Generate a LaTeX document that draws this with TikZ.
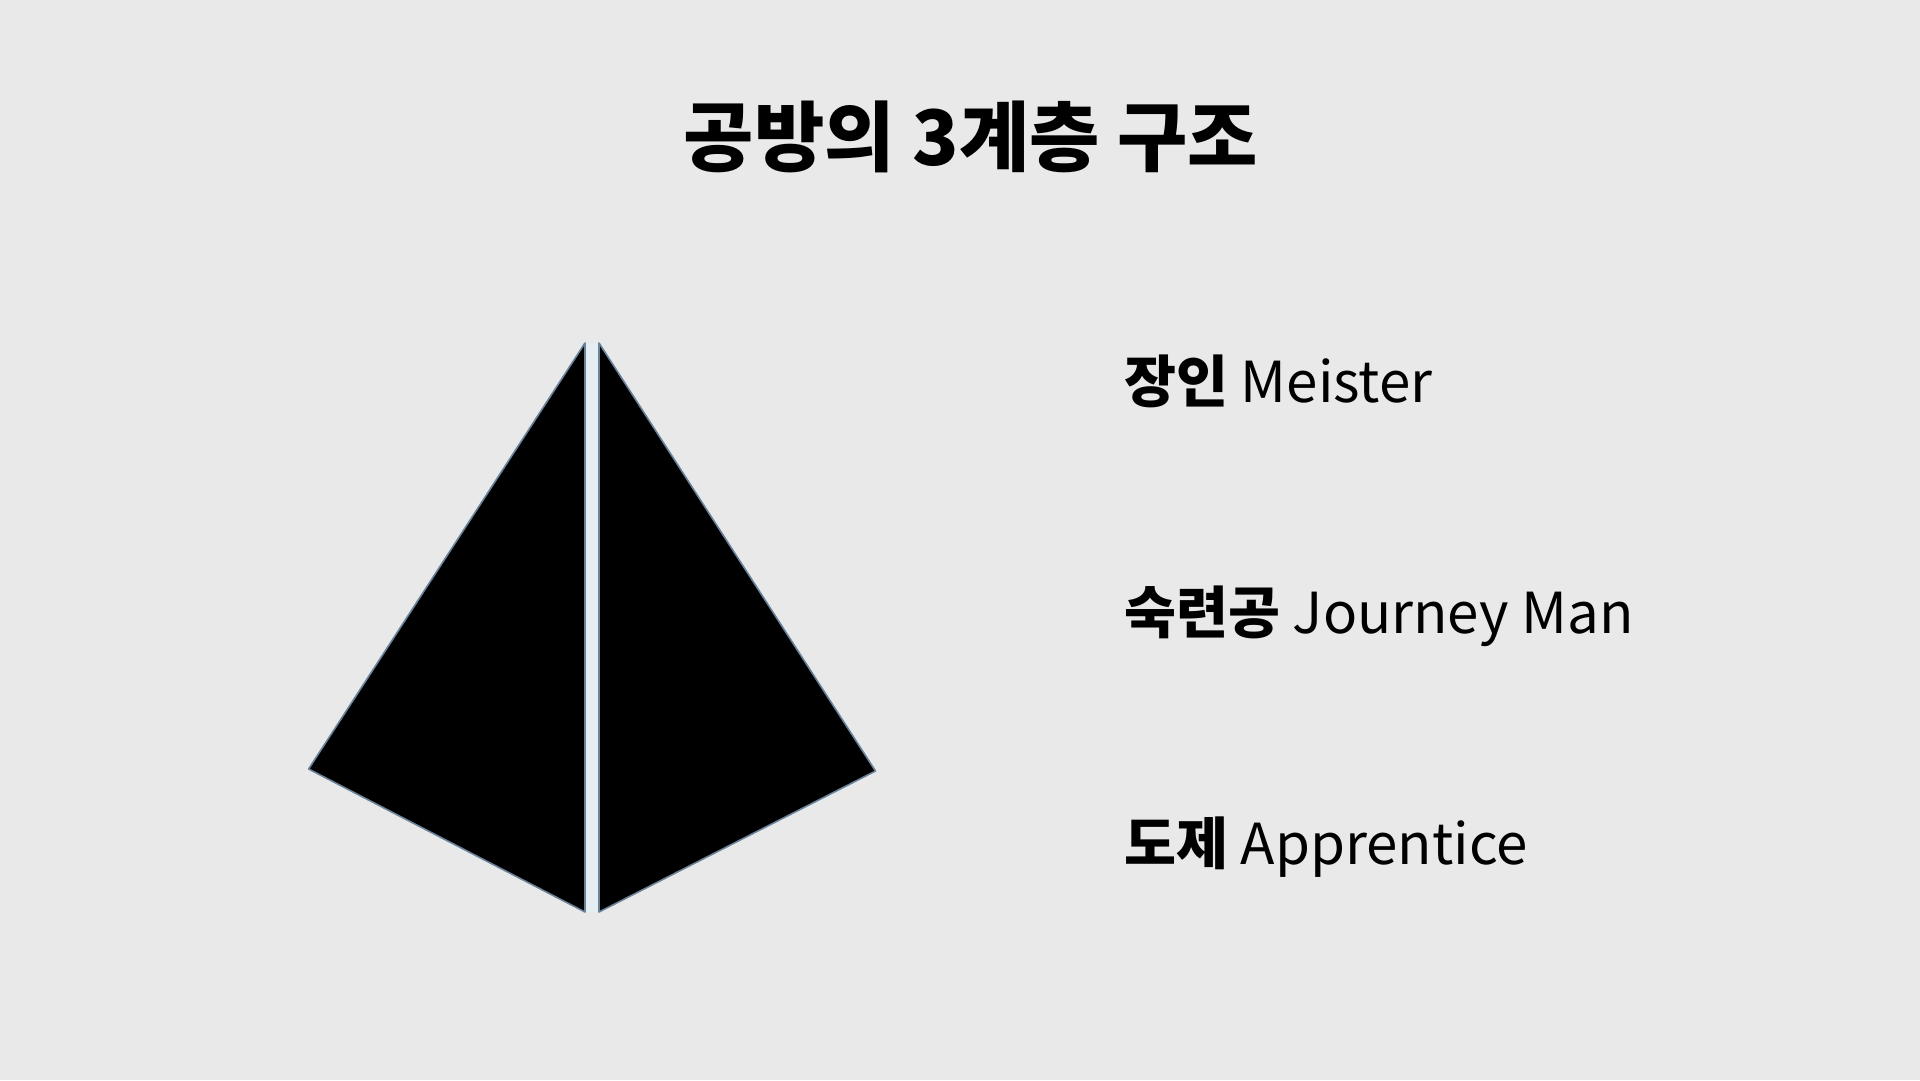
\documentclass[tikz,border=0pt]{standalone}
\usepackage{fontspec}
\newfontfamily\kr{Noto Sans CJK KR}
\definecolor{paper}{HTML}{E9E9E9}
\definecolor{edge}{HTML}{6A8299}
\definecolor{gap}{HTML}{E4EDF2}
\tikzset{
  title/.style={inner sep=0pt, anchor=center, font=\kr\bfseries\fontsize{76.5}{92}\selectfont},
  label/.style={inner sep=0pt, anchor=base west, font=\kr\fontsize{56.5}{68}\selectfont},
  half/.style={fill=black, draw=edge, line width=1.6pt, line join=round},
}
\newcommand{\hb}[1]{{\bfseries #1}}
\begin{document}
\begin{tikzpicture}[x=1pt,y=-1pt]
\fill[paper] (0,0) rectangle (1920,1080);
\useasboundingbox (0,0) rectangle (1920,1080);
\node[title] (t) at (971,137) {공방의 3계층 구조};
% pyramid halves
\fill[gap] (586,343) rectangle (598,912);
\coordinate (la) at (585,343);
\coordinate (lb) at (308.6,769);
\coordinate (lc) at (585,912);
\coordinate (ra) at (599,343);
\coordinate (rb) at (875.5,771);
\coordinate (rc) at (599,912);
\draw[half] (la) -- (lb) -- (lc) -- cycle;
\draw[half] (ra) -- (rb) -- (rc) -- cycle;
\node[label] (l1) at (1124,402) {\hb{장인} Meister};
\node[label] (l2) at (1124,633) {\hb{숙련공} Journey Man};
\node[label] (l3) at (1124,864) {\hb{도제} Apprentice};
\end{tikzpicture}
\end{document}
